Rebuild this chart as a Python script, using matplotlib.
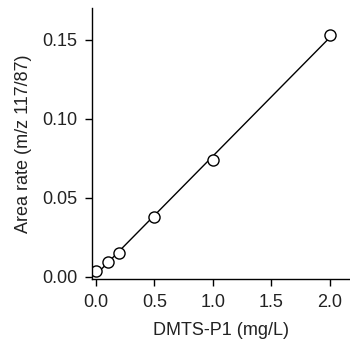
import numpy as np
import matplotlib
matplotlib.use("Agg")
import matplotlib.pyplot as plt

plt.rcParams['font.family'] = ['Liberation Sans', 'DejaVu Sans']

conc = [0.0, 0.1, 0.2, 0.5, 1.0, 2.0]
area_rate = [0.004, 0.0095, 0.015, 0.038, 0.074, 0.153]

# linear fit
slope, intercept = np.polyfit(conc, area_rate, 1)
fit_x = np.array([0.0, 2.0])
fit_y = slope * fit_x + intercept

fig = plt.figure(figsize=(3.5, 3.43), dpi=100)
ax = fig.add_axes([0.264, 0.188, 0.735, 0.788])
ax.plot(fit_x, fit_y, color='black', linewidth=1.0)
ax.plot(conc, area_rate, 'o', markerfacecolor='white', markeredgecolor='black',
        markersize=8, markeredgewidth=1.0)

ax.set_xlim(-0.03, 2.17)
ax.set_ylim(-0.001, 0.17)
ax.set_xticks([0.0, 0.5, 1.0, 1.5, 2.0])
ax.set_xticklabels(['0.0', '0.5', '1.0', '1.5', '2.0'])
ax.set_yticks([0.0, 0.05, 0.10, 0.15])
ax.set_yticklabels(['0.00', '0.05', '0.10', '0.15'])
for s in ['top', 'right']:
    ax.spines[s].set_visible(False)
for s in ['left', 'bottom']:
    ax.spines[s].set_linewidth(1.0)
ax.tick_params(direction='out', length=5, width=1.0, labelsize=13,
               labelcolor='#222222')
ax.tick_params(axis='x', pad=6)
ax.tick_params(axis='y', pad=6)
ax.set_xlabel('DMTS-P1 (mg/L)', fontsize=13, labelpad=8, color='#222222')
ax.set_ylabel('Area rate (m/z 117/87)', fontsize=13, labelpad=7, color='#222222')

fig.savefig('out.png', dpi=100)
